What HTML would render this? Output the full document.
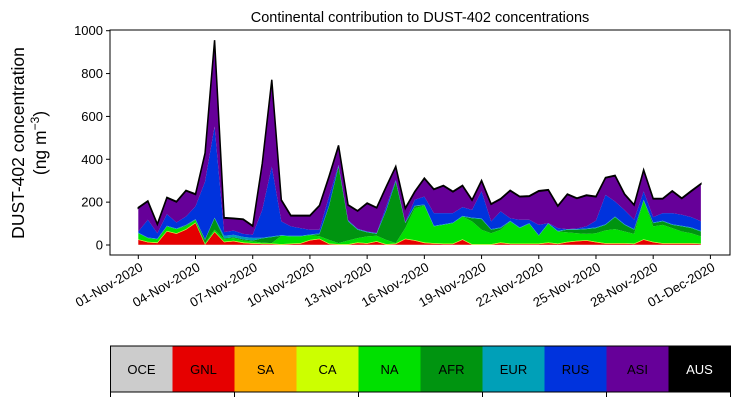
<!DOCTYPE html>
<html><head><meta charset="utf-8"><style>
body{margin:0;background:#fff;}
svg{display:block;font-family:"Liberation Sans","DejaVu Sans",sans-serif;}
</style></head><body>
<svg id="chart" width="739" height="402" xmlns="http://www.w3.org/2000/svg">
<text x="420" y="22" font-size="14.5" text-anchor="middle">Continental contribution to DUST-402 concentrations</text>
<g transform="translate(24,143) rotate(-90)">
<text x="0" y="0" font-size="17.5" text-anchor="middle">DUST-402 concentration</text>
<text x="0" y="22" font-size="17.5" text-anchor="middle">(ng m<tspan dy="-7" font-size="12">−3</tspan><tspan dy="7">)</tspan></text>
</g>
<g id="areas"></g>
<g id="axes"></g>
<g id="legend"></g>
</svg>
<script>
const seriesNames=["OCE","GNL","SA","CA","NA","AFR","EUR","RUS","ASI","AUS"];
const seriesColors=["#cccccc","#e60000","#ffaa00","#ccff00","#00e000","#009410","#00a0b8","#0033dd","#660099","#000000"];
const OCE=[1,1,1,1,1,1,1,1,1,1,1,1,1,1,1,1,1,1,1,1,1,1,1,1,1,1,1,1,1,1,1,1,1,1,1,1,1,1,1,1,1,1,1,1,1,1,1,1,1,1,1,1,1,1,1,1,1,1,1,1];
const GNL=[23,11,8,62,51,70,101,0,59,12,16,8,5,3,3,0,3,5,20,26,3,0,0,8,5,14,0,3,26,19,8,5,3,3,23,0,0,0,8,3,3,3,3,8,3,11,16,19,11,5,5,5,3,23,11,5,5,5,5,3];
const SA=[1,1,1,1,1,1,1,1,1,1,1,1,1,1,1,1,1,1,1,1,1,1,1,1,1,1,1,1,1,1,1,1,1,1,1,1,1,1,1,1,1,1,1,1,1,1,1,1,1,1,1,1,1,1,1,1,1,1,1,1];
const CA=[2,2,2,2,2,2,2,2,2,2,2,2,2,2,2,2,2,2,2,2,2,2,2,2,2,2,2,2,2,2,2,2,2,2,2,2,2,2,2,2,2,2,2,2,2,2,2,2,2,2,2,2,2,2,2,2,2,2,2,2];
const NA=[28,17,15,21,19,13,13,5,8,11,12,9,8,4,2,39,33,31,22,11,17,5,17,20,31,25,20,2,49,149,171,78,87,95,106,106,67,51,59,103,72,92,36,87,56,44,35,29,40,59,65,54,45,181,72,85,70,54,46,33];
const AFR=[0,0,0,0,0,4,0,15,54,4,4,5,4,20,28,0,0,0,0,10,157,357,89,39,19,9,137,287,23,9,3,0,0,0,0,15,50,16,8,0,0,0,0,0,0,12,16,22,24,26,56,31,19,0,15,16,15,24,24,23];
const EUR=[3,3,3,3,3,3,3,3,3,12,12,12,12,3,3,3,3,3,3,3,3,3,3,3,3,3,3,3,3,3,3,3,3,3,3,3,3,3,3,3,3,3,3,3,3,3,3,3,3,3,3,3,3,3,3,3,3,3,3,3];
const RUS=[5,83,25,54,28,39,59,269,425,17,19,14,15,130,326,64,44,36,22,17,42,5,3,2,1,1,16,5,1,27,37,59,52,44,41,36,126,36,75,12,36,16,48,0,13,0,3,10,32,137,70,66,44,39,25,36,52,51,48,45];
const ASI=[110,86,41,76,96,120,56,131,401,66,56,67,40,215,403,99,49,57,65,112,92,89,70,82,131,117,91,61,64,37,84,110,127,99,99,45,49,80,57,128,107,109,157,154,102,162,140,144,111,79,120,73,68,99,85,66,102,76,121,173];
const AUS=[2,2,2,2,2,2,2,2,2,2,2,2,2,2,2,2,2,2,2,2,2,2,2,2,2,2,2,2,2,2,2,2,2,2,2,2,2,2,2,2,2,2,2,2,2,2,2,2,2,2,2,2,2,2,2,2,2,2,2,2];
const yTicks=[0,200,400,600,800,1000];
const xTickDays=[0,3,6,9,12,15,18,21,24,27,30];
const xTickLabels=["01-Nov-2020","04-Nov-2020","07-Nov-2020","10-Nov-2020","13-Nov-2020","16-Nov-2020","19-Nov-2020","22-Nov-2020","25-Nov-2020","28-Nov-2020","01-Dec-2020"];

const NS="http://www.w3.org/2000/svg";
const all=[OCE,GNL,SA,CA,NA,AFR,EUR,RUS,ASI,AUS];
const PX0=110,PX1=730,PY0=30,PY1=255;
const xDay=d=>138.3+19.07*d;
const xIdx=i=>xDay(i*0.5);
const yV=v=>245-0.2143*v;
function mk(tag,attrs,parent){const e=document.createElementNS(NS,tag);for(const k in attrs)e.setAttribute(k,attrs[k]);parent.appendChild(e);return e;}
const areas=document.getElementById('areas');
const n=OCE.length;
let cum=new Array(n).fill(0);
all.forEach((s,k)=>{
  const lo=cum.slice();const hi=cum.map((c,i)=>c+s[i]);
  let d="";
  for(let i=0;i<n;i++)d+=(i?"L":"M")+xIdx(i).toFixed(2)+","+yV(hi[i]).toFixed(2);
  for(let i=n-1;i>=0;i--)d+="L"+xIdx(i).toFixed(2)+","+yV(lo[i]).toFixed(2);
  d+="Z";
  const p=mk('path',{d:d,fill:seriesColors[k],stroke:k===9?"#000":"none","stroke-width":k===9?1.5:0},areas);
  
  
  cum=hi;
});
const ax=document.getElementById('axes');
const fr=mk('rect',{x:PX0,y:PY0,width:PX1-PX0,height:PY1-PY0,fill:"none",stroke:"#000","stroke-width":1},ax);


yTicks.forEach(v=>{
  mk('line',{x1:PX0-4,x2:PX0,y1:yV(v),y2:yV(v),stroke:"#000"},ax);
  const t=mk('text',{x:PX0-7,y:yV(v)+4.5,"font-size":13,"text-anchor":"end"},ax);
  t.textContent=v;
  
  
});
xTickDays.forEach((d,i)=>{
  const x=xDay(d);
  mk('line',{x1:x,x2:x,y1:PY1,y2:PY1+4,stroke:"#000"},ax);
  const t=mk('text',{x:0,y:0,"font-size":13,"text-anchor":"end",transform:`translate(${x+1},${PY1+7}) rotate(-30) translate(0,9)`},ax);
  t.textContent=xTickLabels[i];
  
  
});
const lg=document.getElementById('legend');
const cw=62;
seriesNames.forEach((nm,k)=>{
  const r=mk('rect',{x:110.5+k*cw,y:346,width:cw,height:46,fill:seriesColors[k]},lg);
  
  
  const t=mk('text',{x:110.5+k*cw+cw/2,y:374,"font-size":13,"text-anchor":"middle",fill:k===9?"#fff":"#000"},lg);
  t.textContent=nm;
  
  
});
mk('rect',{x:110.5,y:346,width:620,height:46,fill:"none",stroke:"#000","stroke-width":1},lg);
[0,2,4,6,8,10].forEach(k=>mk('line',{x1:110.5+k*cw,x2:110.5+k*cw,y1:392,y2:397,stroke:"#000"},lg));
</script>
</body></html>
